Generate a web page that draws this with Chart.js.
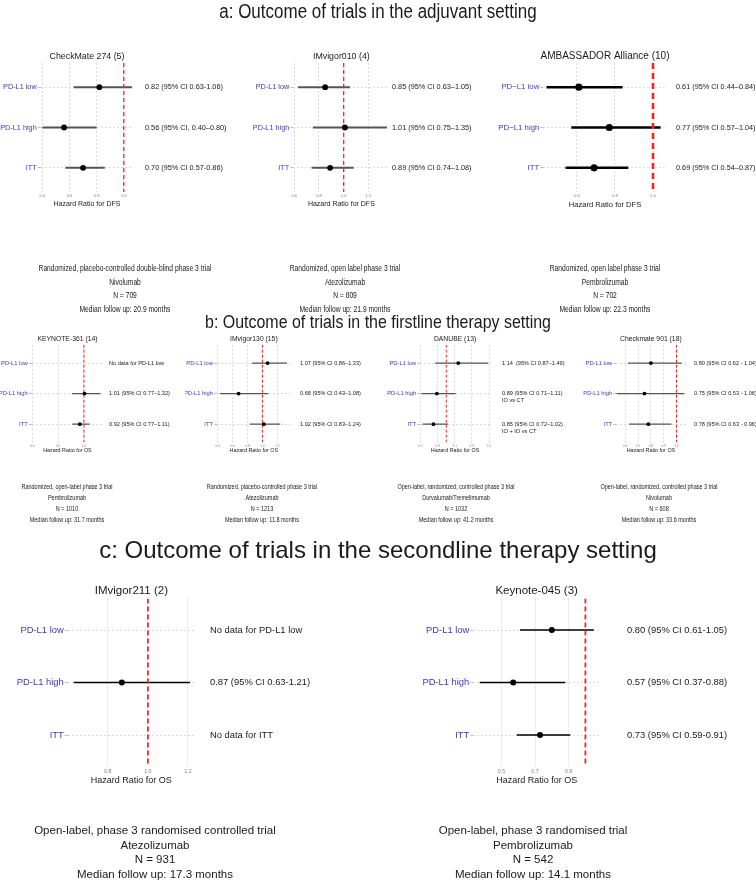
<!DOCTYPE html>
<html>
<head>
<meta charset="utf-8">
<script src="https://cdn.jsdelivr.net/npm/chart.js@4.4.1/dist/chart.umd.min.js"></script>
<style>
  body { margin: 0; background: #fff; }
  #page { position: relative; width: 756px; height: 881px; overflow: hidden; }
  #page canvas { position: absolute; }
</style>
</head>
<body>
<div id="page"><canvas id="bg" width="756" height="881" style="left:0;top:0;width:756px;height:881px"></canvas></div>
<script>
// ----- row labels -----
const ROWS = ['PD-L1 low', 'PD-L1 high', 'ITT'];
const ROWS_MINUS = ['PD\u2212L1 low', 'PD\u2212L1 high', 'ITT'];

// ----- a: adjuvant -----
const cm274Hr = [0.82, 0.56, 0.70];
const cm274Lo = [0.63, 0.40, 0.57];
const cm274Hi = [1.06, 0.80, 0.86];
const cm274Ticks = [0.4, 0.6, 0.8, 1.0];
const cm274Notes = ['0.82 (95% CI 0.63-1.06)', '0.56 (95% CI, 0.40\u20130.80)', '0.70 (95% CI 0.57-0.86)'];
const cm274Info = ['Randomized, placebo-controlled double-blind phase 3 trial', 'Nivolumab', 'N = 709', 'Median follow up: 20.9 months'];

const imv010Hr = [0.85, 1.01, 0.89];
const imv010Lo = [0.63, 0.75, 0.74];
const imv010Hi = [1.05, 1.35, 1.08];
const imv010Ticks = [0.6, 0.8, 1.0, 1.2];
const imv010Notes = ['0.85 (95% CI 0.63\u20131.05)', '1.01 (95% CI 0.75\u20131.35)', '0.89 (95% CI 0.74\u20131.08)'];
const imv010Info = ['Randomized, open label phase 3 trial', 'Atezolizumab', 'N = 809', 'Median follow up: 21.9 months'];

const ambHr = [0.61, 0.77, 0.69];
const ambLo = [0.44, 0.57, 0.54];
const ambHi = [0.84, 1.04, 0.87];
const ambTicks = [0.6, 0.8, 1.0];
const ambNotes = ['0.61 (95% CI 0.44\u20130.84)', '0.77 (95% CI 0.57\u20131.04)', '0.69 (95% CI 0.54\u20130.87)'];
const ambInfo = ['Randomized, open label phase 3 trial', 'Pembrolizumab', 'N = 702', 'Median follow up: 22.3 months'];

// ----- b: first line -----
const kn361Hr = [null, 1.01, 0.92];
const kn361Lo = [null, 0.77, 0.77];
const kn361Hi = [null, 1.32, 1.11];
const kn361Ticks = [0.0, 0.5, 1.0];
const kn361Notes = ['No data for PD-L1 low', '1.01 (95% CI 0.77\u20131.32)', '0.92 (95% CI 0.77\u20131.11)'];
const kn361Info = ['Randomized, open-label phase 3 trial', 'Pembrolizumab', 'N = 1010', 'Median follow up: 31.7 months'];

const imv130Hr = [1.07, 0.68, 1.02];
const imv130Lo = [0.86, 0.43, 0.83];
const imv130Hi = [1.33, 1.08, 1.24];
const imv130Ticks = [0.4, 0.6, 0.8, 1.0, 1.2];
const imv130Notes = ['1.07 (95% CI 0.86\u20131.33)', '0.68 (95% CI 0.43\u20131.08)', '1.02 (95% CI 0.83\u20131.24)'];
const imv130Info = ['Randomized, placebo-controlled phase 3 trial', 'Atezolizumab', 'N = 1213', 'Median follow up: 11.8 months'];

const danHr = [1.14, 0.89, 0.85];
const danLo = [0.87, 0.71, 0.72];
const danHi = [1.49, 1.11, 1.02];
const danTicks = [0.7, 0.9, 1.1, 1.3, 1.5];
const danNotes = ['1.14  (95% CI 0.87\u20131.49)', ['0.89 (95% CI 0.71\u20131.11)', 'IO vs CT'], ['0.85 (95% CI 0.72\u20131.02)', 'IO + IO vs CT']];
const danInfo = ['Open-label, randomized, controlled phase 3 trial', 'Durvalumab/Tremelimumab', 'N = 1032', 'Median follow up: 41.2 months'];

const cm901Hr = [0.80, 0.75, 0.78];
const cm901Lo = [0.62, 0.53, 0.63];
const cm901Hi = [1.04, 1.06, 0.96];
const cm901Ticks = [0.6, 0.7, 0.8, 0.9, 1.0];
const cm901Notes = ['0.80 (95% CI 0.62 - 1.04)', '0.75 (95% CI 0.53 - 1.06)', '0.78 (95% CI 0.63 - 0.96)'];
const cm901Info = ['Open-label, randomized, controlled phase 3 trial', 'Nivolumab', 'N = 608', 'Median follow up: 33.6 months'];

// ----- c: second line -----
const imv211Hr = [null, 0.87, null];
const imv211Lo = [null, 0.63, null];
const imv211Hi = [null, 1.21, null];
const imv211Ticks = [0.8, 1.0, 1.2];
const imv211Notes = ['No data for PD-L1 low', '0.87 (95% CI 0.63-1.21)', 'No data for ITT'];
const imv211Info = ['Open-label, phase 3 randomised controlled trial', 'Atezolizumab', 'N = 931', 'Median follow up: 17.3 months'];

const kn045Hr = [0.80, 0.57, 0.73];
const kn045Lo = [0.61, 0.37, 0.59];
const kn045Hi = [1.05, 0.88, 0.91];
const kn045Ticks = [0.5, 0.7, 0.9];
const kn045Notes = ['0.80 (95% CI 0.61-1.05)', '0.57 (95% CI 0.37-0.88)', '0.73 (95% CI 0.59-0.91)'];
const kn045Info = ['Open-label, phase 3 randomised trial', 'Pembrolizumab', 'N = 542', 'Median follow up: 14.1 months'];

// ----- styles -----
const FONT = "'Liberation Sans', Arial, sans-serif";
const INK = '#1a1a1a';
const BLUE = '#3b3bb8';
const RED = '#ff1f1f';
const GRID = '#d2d2d2';
const Y_MIN = -0.6, Y_MAX = 2.6;   // discrete axis padding like ggplot

const STYLE_A  = { title: 8.8, label: 7.3, note: 7.3, axis: 7, tick: 4.1, tickPad: 1.3, ci: '#555', ciW: 2, pt: 2.9, refW: 1.3, refDash: [4, 3], lead: 8 };
const STYLE_A3 = { title: 10, label: 7.8, note: 7.3, axis: 7.6, tick: 4.4, tickPad: 1.3, ci: '#000', ciW: 2.4, pt: 3.6, refW: 2.6, refDash: [6, 4], lead: 8 };
const STYLE_B  = { title: 6.8, label: 5.8, note: 5.6, axis: 5.4, tick: 3.1, tickPad: 1.3, ci: '#555', ciW: 1.3, pt: 1.9, refW: 1, refDash: [3, 2], lead: 7 };
const STYLE_C  = { title: 11.5, label: 9.4, note: 9.4, axis: 9, tick: 5.3, tickPad: 2.2, ci: '#000', ciW: 1.5, pt: 3, refW: 1.8, refDash: [5, 3], lead: 11 };

// 説明文（a, b は元画像で横に詰まった字形なので sx で横方向を縮める）
const INFO_A = { size: 8.6, sx: 0.78, ys: [269, 282.5, 296, 310] };
const INFO_B = { size: 6.4, sx: 0.86, ys: [487, 498, 509, 520] };
const INFO_C = { size: 11.5, sx: 1, ys: [831, 845.5, 860, 874.5] };

// 各パネルの配置（plot = [左, 右, 上, 下] の描画領域）
const PANELS = [
  { title: 'CheckMate 274 (5)', rows: ROWS, hr: cm274Hr, lo: cm274Lo, hi: cm274Hi, ticks: cm274Ticks, notes: cm274Notes, info: cm274Info,
    style: STYLE_A, infoStyle: INFO_A, axisText: 'Hazard Ratio for DFS', xMin: 0.388, xMax: 1.07,
    plot: [40.7, 133.3, 63, 192], x0: 0, x1: 250, titleY: 56.5, axisTitleY: 204.2, noteX: 145, infoX: 125 },
  { title: 'IMvigor010 (4)', rows: ROWS, hr: imv010Hr, lo: imv010Lo, hi: imv010Hi, ticks: imv010Ticks, notes: imv010Notes, info: imv010Info,
    style: STYLE_A, infoStyle: INFO_A, axisText: 'Hazard Ratio for DFS', xMin: 0.592, xMax: 1.37,
    plot: [293.3, 389.4, 63, 192], x0: 250, x1: 500, titleY: 56.5, axisTitleY: 204.2, noteX: 392, infoX: 345 },
  { title: 'AMBASSADOR Alliance (10)', rows: ROWS_MINUS, hr: ambHr, lo: ambLo, hi: ambHi, ticks: ambTicks, notes: ambNotes, info: ambInfo,
    style: STYLE_A3, infoStyle: INFO_A, axisText: 'Hazard Ratio for DFS', xMin: 0.423, xMax: 1.072,
    plot: [543.3, 666.7, 63, 192], x0: 494, x1: 756, titleY: 56, axisTitleY: 204.2, noteX: 676, infoX: 605 },

  { title: 'KEYNOTE-361 (14)', rows: ROWS, hr: kn361Hr, lo: kn361Lo, hi: kn361Hi, ticks: kn361Ticks, notes: kn361Notes, info: kn361Info,
    style: STYLE_B, infoStyle: INFO_B, axisText: 'Hazard Ratio for OS', xMin: -0.01, xMax: 1.37,
    plot: [31.8, 103.1, 344.7, 442.5], x0: 0, x1: 190, titleY: 339, axisTitleY: 450.7, noteX: 109, infoX: 67 },
  { title: 'IMvigor130 (15)', rows: ROWS, hr: imv130Hr, lo: imv130Lo, hi: imv130Hi, ticks: imv130Ticks, notes: imv130Notes, info: imv130Info,
    style: STYLE_B, infoStyle: INFO_B, axisText: 'Hazard Ratio for OS', xMin: 0.39, xMax: 1.38,
    plot: [217, 290.7, 344.7, 442.5], x0: 185, x1: 380, titleY: 339, axisTitleY: 450.7, noteX: 300, infoX: 262 },
  { title: 'DANUBE (13)', rows: ROWS, hr: danHr, lo: danLo, hi: danHi, ticks: danTicks, notes: danNotes, info: danInfo,
    style: STYLE_B, infoStyle: INFO_B, axisText: 'Hazard Ratio for OS', xMin: 0.695, xMax: 1.51,
    plot: [420.2, 489.9, 344.7, 442.5], x0: 375, x1: 570, titleY: 339, axisTitleY: 450.7, noteX: 502, infoX: 456 },
  { title: 'Checkmate 901 (18)', rows: ROWS, hr: cm901Hr, lo: cm901Lo, hi: cm901Hi, ticks: cm901Ticks, notes: cm901Notes, info: cm901Info,
    style: STYLE_B, infoStyle: INFO_B, axisText: 'Hazard Ratio for OS', xMin: 0.53, xMax: 1.07,
    plot: [616.3, 685.5, 344.7, 442.5], x0: 566, x1: 756, titleY: 339, axisTitleY: 450.7, noteX: 694, infoX: 659 },

  { title: 'IMvigor211 (2)', rows: ROWS, hr: imv211Hr, lo: imv211Lo, hi: imv211Hi, ticks: imv211Ticks, notes: imv211Notes, info: imv211Info,
    style: STYLE_C, infoStyle: INFO_C, axisText: 'Hazard Ratio for OS', xMin: 0.6, xMax: 1.235,
    plot: [67.7, 195, 598.5, 766.5], x0: 0, x1: 378, titleY: 591, axisTitleY: 781, noteX: 210, infoX: 155 },
  { title: 'Keynote-045 (3)', rows: ROWS, hr: kn045Hr, lo: kn045Lo, hi: kn045Hi, ticks: kn045Ticks, notes: kn045Notes, info: kn045Info,
    style: STYLE_C, infoStyle: INFO_C, axisText: 'Hazard Ratio for OS', xMin: 0.332, xMax: 1.087,
    plot: [473.3, 600, 598.5, 766.5], x0: 378, x1: 756, titleY: 591, axisTitleY: 781, noteX: 627, infoX: 533 },
];

const HEADINGS = [
  { text: 'a: Outcome of trials in the adjuvant setting', y: 12, size: 20, sx: 0.85 },
  { text: 'b: Outcome of trials in the firstline therapy setting', y: 323, size: 19, sx: 0.84 },
  { text: 'c: Outcome of trials in the secondline therapy setting', y: 551, size: 24, sx: 1 },
];

const page = document.getElementById('page');
const bg = document.getElementById('bg').getContext('2d');

// 背景キャンバスに中央揃えのテキストを書く（sx: 横方向の縮率）
function addText(txt, cx, cy, size, sx = 1) {
  bg.save();
  bg.fillStyle = INK;
  bg.font = `${size}px ${FONT}`;
  bg.textAlign = 'center';
  bg.textBaseline = 'middle';
  bg.translate(cx, cy);
  bg.scale(sx, 1);
  bg.fillText(txt, 0, 0);
  bg.restore();
}

// パネルタイトルと右側の注記テキストを描く
const forestText = {
  id: 'forestText',
  afterDraw(chart, args, o) {
    const { ctx, chartArea, scales: { y } } = chart;
    ctx.save();
    ctx.fillStyle = INK;
    ctx.textBaseline = 'middle';
    ctx.textAlign = 'center';
    ctx.font = `${o.titleSize}px ${FONT}`;
    ctx.fillText(o.title, (chartArea.left + chartArea.right) / 2, chartArea.top - o.titleGap);
    ctx.textAlign = 'left';
    ctx.font = `${o.noteSize}px ${FONT}`;
    o.notes.forEach((n, i) => {
      const lines = Array.isArray(n) ? n : [n];
      const py = y.getPixelForValue(i);
      lines.forEach((t, k) => ctx.fillText(t, chartArea.right + o.noteGap, py + k * o.lead));
    });
    ctx.restore();
  }
};

function drawPanel(p) {
  const s = p.style;
  const [l, r, t, b] = p.plot;
  const y0 = Math.floor(p.titleY - s.title);
  const y1 = Math.round(p.axisTitleY + s.axis * 0.6);
  const W = p.x1 - p.x0, H = y1 - y0;

  const cv = document.createElement('canvas');
  cv.width = W; cv.height = H;
  cv.style.left = p.x0 + 'px'; cv.style.top = y0 + 'px';
  cv.style.width = W + 'px'; cv.style.height = H + 'px';
  page.appendChild(cv);

  const datasets = [];
  // 点推定値
  datasets.push({
    type: 'scatter',
    data: p.hr.map((v, i) => (v == null ? null : { x: v, y: i })).filter(Boolean),
    pointRadius: s.pt, pointBackgroundColor: '#000', pointBorderWidth: 0, order: 0,
  });
  // HR = 1 の基準線
  datasets.push({
    type: 'line', data: [{ x: 1, y: Y_MIN }, { x: 1, y: Y_MAX }],
    borderColor: RED, borderWidth: s.refW, borderDash: s.refDash, pointRadius: 0, order: 1,
  });
  // 95% CI
  p.hr.forEach((v, i) => {
    if (v == null) return;
    datasets.push({
      type: 'line', data: [{ x: p.lo[i], y: i }, { x: p.hi[i], y: i }],
      borderColor: s.ci, borderWidth: s.ciW, pointRadius: 0, order: 2,
    });
  });

  new Chart(cv, {
    type: 'scatter',
    data: { datasets },
    options: {
      responsive: false,
      animation: false,
      events: [],
      layout: { padding: { left: 0, right: p.x1 - r, top: t - y0, bottom: 0 } },
      plugins: {
        legend: { display: false },
        tooltip: { enabled: false },
        forestText: {
          title: p.title, titleSize: s.title, titleGap: t - p.titleY,
          notes: p.notes, noteSize: s.note, noteGap: p.noteX - r, lead: s.lead,
        },
      },
      scales: {
        x: {
          type: 'linear', min: p.xMin, max: p.xMax,
          afterBuildTicks: ax => { ax.ticks = p.ticks.map(v => ({ value: v })); },
          afterFit: ax => { ax.height = y1 - b; },
          grid: { color: GRID, lineWidth: 0.8, drawTicks: false },
          border: { display: false, dash: [2, 2] },
          ticks: {
            autoSkip: false, maxRotation: 0, padding: s.tickPad, color: '#808080',
            font: { family: FONT, size: s.tick }, callback: v => v.toFixed(1),
          },
          title: { display: true, text: p.axisText, color: INK, padding: 0, font: { family: FONT, size: s.axis } },
        },
        y: {
          type: 'linear', min: Y_MIN, max: Y_MAX, reverse: true,
          afterBuildTicks: ax => { ax.ticks = p.rows.map((_, i) => ({ value: i })); },
          afterFit: ax => { ax.width = l - p.x0; },
          grid: { color: GRID, lineWidth: 0.8, tickLength: 3, tickColor: '#b0b0b0' },
          border: { display: false, dash: [2, 2] },
          ticks: { autoSkip: false, padding: 1, color: BLUE, font: { family: FONT, size: s.label }, callback: v => p.rows[v] },
        },
      },
    },
    plugins: [forestText],
  });

  const is = p.infoStyle;
  p.info.forEach((line, k) => addText(line, p.infoX, is.ys[k], is.size, is.sx));
}

HEADINGS.forEach(h => addText(h.text, 378, h.y, h.size, h.sx));
PANELS.forEach(drawPanel);
</script>
</body>
</html>
